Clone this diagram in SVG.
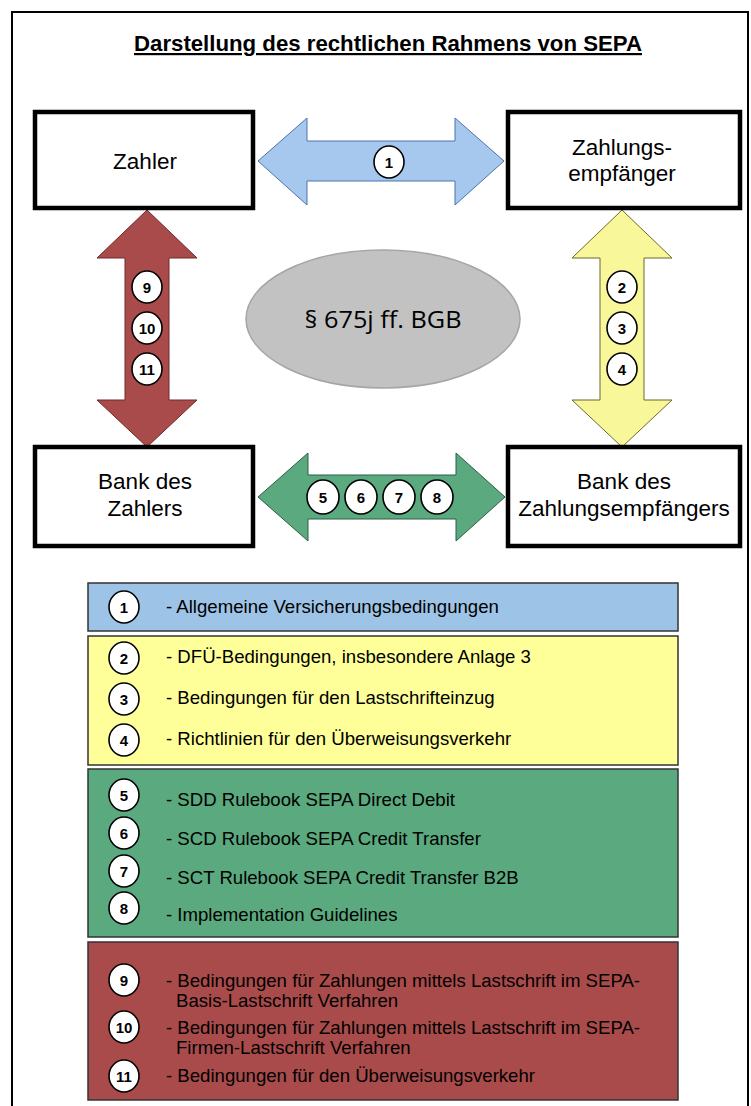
<svg xmlns="http://www.w3.org/2000/svg" width="751" height="1106" viewBox="0 0 751 1106">
  <style>
    .box { fill: #ffffff; stroke: #000000; stroke-width: 4.5; }
    .lbl { font-family: "Liberation Sans", Arial, sans-serif; font-size: 22.5px; fill: #000; text-anchor: middle; }
    .num { font-family: "Liberation Sans", Arial, sans-serif; font-size: 15px; font-weight: bold; fill: #000; text-anchor: middle; }
    .badge { fill: #ffffff; stroke: #000000; stroke-width: 1.6; }
    .legtxt { font-family: "Liberation Sans", Arial, sans-serif; font-size: 18.6px; fill: #000; }
    .legbox { stroke: #333333; stroke-width: 1.5; }
  </style>
  <rect x="0" y="0" width="751" height="1106" fill="#ffffff"/>
  <!-- page frame -->
  <rect x="12" y="12" width="736" height="1110" fill="none" stroke="#000" stroke-width="2"/>

  <!-- heading -->
  <text x="388" y="51" font-family="Liberation Sans, Arial, sans-serif" font-size="22" font-weight="bold" text-anchor="middle" text-decoration="underline" textLength="508" lengthAdjust="spacingAndGlyphs">Darstellung des rechtlichen Rahmens von SEPA</text>

  <!-- connectors -->
  <g id="connectors">
    <g id="arrow-blue">
      <path d="M258,161 L307,118 L307,141 L455,141 L455,118 L504,161 L455,205 L455,181 L307,181 L307,205 Z" fill="#a6c8ef" stroke="#4a74a8" stroke-width="1"/>
      <ellipse class="badge" cx="389" cy="162" rx="15" ry="16"/>
      <text class="num" x="389" y="167.5">1</text>
    </g>
    <g id="arrow-red">
      <path d="M147,210 L197,258 L169,258 L169,400 L197,400 L147,447 L97,400 L125,400 L125,258 L97,258 Z" fill="#a94b4b" stroke="#6e2a2a" stroke-width="1"/>
      <ellipse class="badge" cx="147" cy="287" rx="15" ry="16"/>
      <text class="num" x="147" y="292.5">9</text>
      <ellipse class="badge" cx="147" cy="328" rx="15" ry="16"/>
      <text class="num" x="147" y="333.5">10</text>
      <ellipse class="badge" cx="147" cy="369" rx="15" ry="16"/>
      <text class="num" x="147" y="374.5">11</text>
    </g>
    <g id="arrow-yellow">
      <path d="M622,210 L672,258 L644,258 L644,400 L672,400 L622,447 L572,400 L600,400 L600,258 L572,258 Z" fill="#f8f79a" stroke="#6b6b2a" stroke-width="1"/>
      <ellipse class="badge" cx="622" cy="287" rx="15" ry="16"/>
      <text class="num" x="622" y="292.5">2</text>
      <ellipse class="badge" cx="622" cy="328" rx="15" ry="16"/>
      <text class="num" x="622" y="333.5">3</text>
      <ellipse class="badge" cx="622" cy="369" rx="15" ry="16"/>
      <text class="num" x="622" y="374.5">4</text>
    </g>
    <g id="arrow-green">
      <path d="M258,497 L308,453 L308,475 L456,475 L456,453 L505,497 L456,541 L456,519 L308,519 L308,541 Z" fill="#5aa97f" stroke="#2e5e44" stroke-width="1"/>
      <ellipse class="badge" cx="323" cy="497" rx="16" ry="17"/>
      <text class="num" x="323" y="502.5">5</text>
      <ellipse class="badge" cx="361" cy="497" rx="16" ry="17"/>
      <text class="num" x="361" y="502.5">6</text>
      <ellipse class="badge" cx="399" cy="497" rx="16" ry="17"/>
      <text class="num" x="399" y="502.5">7</text>
      <ellipse class="badge" cx="437" cy="497" rx="16" ry="17"/>
      <text class="num" x="437" y="502.5">8</text>
    </g>
  </g>

  <!-- parties -->
  <g id="zahler">
    <rect class="box" x="35" y="112" width="218" height="96"/>
    <text class="lbl" x="145" y="169">Zahler</text>
  </g>
  <g id="zahlungsempfaenger">
    <rect class="box" x="508" y="112" width="232" height="96"/>
    <text class="lbl" x="622" y="155">Zahlungs-</text>
    <text class="lbl" x="622" y="181">empfänger</text>
  </g>
  <g id="bank-zahler">
    <rect class="box" x="35" y="447" width="218" height="99"/>
    <text class="lbl" x="145" y="489">Bank des</text>
    <text class="lbl" x="145" y="516">Zahlers</text>
  </g>
  <g id="bank-empfaenger">
    <rect class="box" x="508" y="447" width="232" height="99"/>
    <text class="lbl" x="624" y="489">Bank des</text>
    <text class="lbl" x="624" y="516">Zahlungsempfängers</text>
  </g>

  <!-- statutory basis -->
  <g id="bgb">
    <ellipse cx="383" cy="319" rx="137" ry="69" fill="#c2c2c2" stroke="#a5a5a5" stroke-width="1.5"/>
    <text x="383" y="328" font-family="Open Sans, Noto Sans, sans-serif" font-size="24" text-anchor="middle" fill="#000" textLength="157" lengthAdjust="spacingAndGlyphs">§ 675j ff. BGB</text>
  </g>

  <!-- legend -->
  <g id="legend-1">
    <rect class="legbox" x="88" y="583" width="590" height="48" fill="#9dc3e6"/>
    <ellipse class="badge" cx="124" cy="607" rx="15" ry="16"/>
    <text class="num" x="124" y="612.5">1</text>
    <text class="legtxt" x="166" y="613">- Allgemeine Versicherungsbedingungen</text>
  </g>
  <g id="legend-2-4">
    <rect class="legbox" x="88" y="636" width="590" height="129" fill="#ffff99"/>
    <ellipse class="badge" cx="124" cy="658" rx="15" ry="16"/>
    <text class="num" x="124" y="663.5">2</text>
    <text class="legtxt" x="166" y="663">- DFÜ-Bedingungen, insbesondere Anlage 3</text>
    <ellipse class="badge" cx="124" cy="699" rx="15" ry="16"/>
    <text class="num" x="124" y="704.5">3</text>
    <text class="legtxt" x="166" y="704">- Bedingungen für den Lastschrifteinzug</text>
    <ellipse class="badge" cx="124" cy="740" rx="15" ry="16"/>
    <text class="num" x="124" y="745.5">4</text>
    <text class="legtxt" x="166" y="745">- Richtlinien für den Überweisungsverkehr</text>
  </g>
  <g id="legend-5-8">
    <rect class="legbox" x="88" y="769" width="590" height="168" fill="#5aa97f"/>
    <ellipse class="badge" cx="124" cy="795" rx="15" ry="16"/>
    <text class="num" x="124" y="800.5">5</text>
    <text class="legtxt" x="166" y="806">- SDD Rulebook SEPA Direct Debit</text>
    <ellipse class="badge" cx="124" cy="833" rx="15" ry="16"/>
    <text class="num" x="124" y="838.5">6</text>
    <text class="legtxt" x="166" y="845">- SCD Rulebook SEPA Credit Transfer</text>
    <ellipse class="badge" cx="124" cy="871" rx="15" ry="16"/>
    <text class="num" x="124" y="876.5">7</text>
    <text class="legtxt" x="166" y="884">- SCT Rulebook SEPA Credit Transfer B2B</text>
    <ellipse class="badge" cx="124" cy="908" rx="15" ry="16"/>
    <text class="num" x="124" y="913.5">8</text>
    <text class="legtxt" x="166" y="921">- Implementation Guidelines</text>
  </g>
  <g id="legend-9-11">
    <rect class="legbox" x="88" y="942" width="590" height="158" fill="#a94b4b"/>
    <ellipse class="badge" cx="124" cy="980" rx="15" ry="16"/>
    <text class="num" x="124" y="985.5">9</text>
    <text class="legtxt" x="166" y="987">- Bedingungen für Zahlungen mittels Lastschrift im SEPA-</text>
    <text class="legtxt" x="176" y="1007">Basis-Lastschrift Verfahren</text>
    <ellipse class="badge" cx="124" cy="1027" rx="15" ry="16"/>
    <text class="num" x="124" y="1032.5">10</text>
    <text class="legtxt" x="166" y="1034">- Bedingungen für Zahlungen mittels Lastschrift im SEPA-</text>
    <text class="legtxt" x="176" y="1054">Firmen-Lastschrift Verfahren</text>
    <ellipse class="badge" cx="124" cy="1076" rx="15" ry="16"/>
    <text class="num" x="124" y="1081.5">11</text>
    <text class="legtxt" x="166" y="1082">- Bedingungen für den Überweisungsverkehr</text>
  </g>
</svg>
